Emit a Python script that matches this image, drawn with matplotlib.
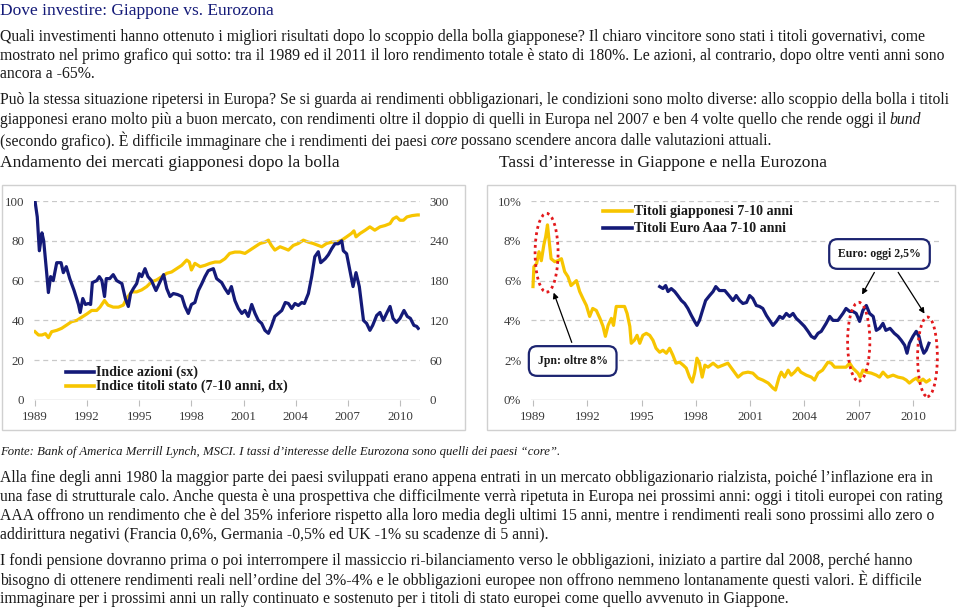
import matplotlib
matplotlib.use('Agg')
import matplotlib.pyplot as plt
from matplotlib.lines import Line2D
from matplotlib.patches import Rectangle, Ellipse, FancyArrowPatch

# %% Data read off the reference
# Chart 1: Japanese equity index (left axis) and govt bond index (right axis)
eq_year = [1989.0, 1989.13, 1989.25, 1989.4, 1989.5, 1989.67, 1989.77, 1989.9, 1990.05, 1990.25,
           1990.5, 1990.63, 1990.8, 1991.0, 1991.25, 1991.5, 1991.6, 1991.75, 1991.9, 1992.07,
           1992.2, 1992.3, 1992.55, 1992.7, 1992.85, 1993.0, 1993.1, 1993.3, 1993.5, 1993.7,
           1994.0, 1994.2, 1994.37, 1994.5, 1994.66, 1994.85, 1995.0, 1995.14, 1995.33, 1995.5,
           1995.7, 1995.96, 1996.2, 1996.4, 1996.58, 1996.77, 1996.96, 1997.2, 1997.45, 1997.63,
           1997.82, 1998.0, 1998.2, 1998.4, 1998.6, 1998.78, 1998.97, 1999.26, 1999.45, 1999.74,
           1999.93, 2000.12, 2000.3, 2000.5, 2000.7, 2000.9, 2001.08, 2001.27, 2001.47, 2001.66,
           2001.85, 2002.04, 2002.23, 2002.43, 2002.6, 2002.8, 2003.0, 2003.2, 2003.4, 2003.58,
           2003.77, 2003.96, 2004.15, 2004.35, 2004.5, 2004.73, 2004.92, 2005.1, 2005.3, 2005.44,
           2005.7, 2005.88, 2006.07, 2006.26, 2006.45, 2006.65, 2006.74, 2006.93, 2007.12, 2007.3,
           2007.47, 2007.66, 2007.9, 2008.08, 2008.27, 2008.43, 2008.66, 2008.85, 2009.04, 2009.23,
           2009.43, 2009.6, 2009.8, 2010.0, 2010.23, 2010.42, 2010.6, 2010.8, 2010.96, 2011.05]
eq_val = [100, 92, 75, 84, 80, 64, 54, 62, 60, 69,
          69, 64, 67, 61, 55, 48, 44, 51, 48, 48.5,
          48, 59, 60, 62, 60, 52, 61, 61, 63, 60,
          58.5, 51, 47, 53.5, 56, 58.5, 63.5, 62, 66, 62,
          60, 55, 59.5, 63, 56, 52, 53.5, 53, 52, 47,
          43.5, 48, 49, 55, 58.5, 62, 65, 66, 61, 59,
          56, 53.5, 57, 50, 46, 43.5, 45, 42, 48, 43.5,
          40, 38.5, 35, 33.5, 37, 42, 43.5, 45, 49, 48.5,
          46, 48.5, 47.5, 49, 48.5, 53.5, 62, 72, 74.5, 69,
          71, 73, 76, 78.5, 78.5, 80, 75, 73.5, 65, 57,
          64, 57, 40, 38.5, 35, 37.5, 42.5, 44, 40, 43.5,
          47, 41, 39, 41, 45, 42, 41, 37.5, 37, 36]

bd_year = [1989.0, 1989.2, 1989.4, 1989.6, 1989.77, 1989.96, 1990.25, 1990.53, 1990.82, 1991.1,
           1991.4, 1991.7, 1992.0, 1992.26, 1992.55, 1992.74, 1993.0, 1993.2, 1993.5, 1993.8,
           1994.08, 1994.27, 1994.56, 1994.85, 1995.14, 1995.43, 1995.7, 1996.0, 1996.3, 1996.58,
           1996.86, 1997.15, 1997.44, 1997.73, 1997.88, 1998.0, 1998.2, 1998.5, 1998.78, 1999.07,
           1999.36, 1999.64, 1999.93, 2000.2, 2000.5, 2000.8, 2001.08, 2001.37, 2001.66, 2001.95,
           2002.23, 2002.43, 2002.6, 2002.8, 2003.1, 2003.4, 2003.58, 2003.86, 2004.15, 2004.44,
           2004.73, 2005.0, 2005.3, 2005.5, 2005.78, 2006.07, 2006.36, 2006.65, 2006.93, 2007.2,
           2007.35, 2007.47, 2007.7, 2008.0, 2008.27, 2008.55, 2008.85, 2009.14, 2009.43, 2009.6,
           2009.8, 2010.0, 2010.2, 2010.4, 2010.7, 2011.0, 2011.05]
bd_val = [103, 98, 98, 100, 94, 103, 105, 108, 113, 118,
          120, 125, 130, 135, 135, 140, 150, 143, 140, 140,
          143, 153, 163, 163, 166, 171, 178, 181, 186, 191,
          193, 198, 203, 211, 208, 196, 206, 201, 203, 206,
          208, 208, 213, 221, 223, 223, 221, 226, 231, 236,
          238, 241, 233, 226, 231, 228, 226, 233, 236, 241,
          238, 236, 233, 231, 236, 238, 238, 241, 246, 251,
          255, 246, 251, 256, 261, 256, 261, 263, 266, 273,
          276, 271, 271, 276, 278, 279, 279]

# Chart 2: 7-10y yields, %
jp_year = [1989.0, 1989.05, 1989.2, 1989.33, 1989.46, 1989.6, 1989.7, 1989.8, 1989.88, 1990.0,
           1990.2, 1990.38, 1990.57, 1990.75, 1990.93, 1991.1, 1991.4, 1991.58, 1991.76, 1991.95,
           1992.13, 1992.3, 1992.5, 1992.7, 1992.87, 1993.0, 1993.15, 1993.33, 1993.45, 1993.6,
           1993.88, 1994.06, 1994.2, 1994.35, 1994.43, 1994.6, 1994.75, 1994.9, 1995.07, 1995.26,
           1995.45, 1995.63, 1995.8, 1996.0, 1996.18, 1996.37, 1996.55, 1996.73, 1996.9, 1997.1,
           1997.3, 1997.47, 1997.65, 1997.8, 1997.93, 1998.06, 1998.2, 1998.35, 1998.5, 1998.67,
           1998.95, 1999.22, 1999.5, 1999.77, 2000.05, 2000.33, 2000.6, 2000.88, 2001.15, 2001.43,
           2001.7, 2002.0, 2002.26, 2002.4, 2002.6, 2002.72, 2002.9, 2003.1, 2003.27, 2003.45,
           2003.64, 2003.8, 2004.1, 2004.38, 2004.56, 2004.75, 2005.0, 2005.3, 2005.48, 2005.67,
           2005.94, 2006.3, 2006.5, 2006.68, 2006.96, 2007.08, 2007.23, 2007.42, 2007.7, 2007.97,
           2008.15, 2008.34, 2008.6, 2008.9, 2009.17, 2009.44, 2009.63, 2009.8, 2010.0, 2010.18,
           2010.36, 2010.55, 2010.73, 2010.9]
jp_val = [5.7, 6.7, 6.85, 7.45, 7.0, 7.8, 8.2, 8.8, 8.1, 7.1,
          6.95, 7.0, 7.1, 6.45, 6.2, 5.75, 6.0, 5.45, 5.1, 4.75,
          4.2, 4.6, 4.5, 4.1, 3.7, 3.2, 3.75, 4.1, 3.75, 4.7,
          4.7, 4.7, 4.35, 3.7, 2.85, 3.0, 3.25, 2.85, 3.25, 3.35,
          3.25, 3.0, 2.6, 2.4, 2.5, 2.35, 2.6, 2.25, 1.85, 1.9,
          1.75, 1.6, 1.15, 0.9, 1.35, 2.1, 1.85, 1.15, 1.75, 1.65,
          1.85, 1.65, 1.75, 1.85, 1.5, 1.15, 1.35, 1.4, 1.35, 1.1,
          1.0, 0.85, 0.6, 0.5, 1.15, 1.4, 1.15, 1.5, 1.25, 1.4,
          1.6, 1.4, 1.25, 1.15, 1.0, 1.35, 1.5, 1.9, 1.85, 1.65,
          1.65, 1.65, 1.85, 1.6, 1.35, 1.15, 1.5, 1.4, 1.35, 1.25,
          1.15, 1.4, 1.15, 1.25, 1.15, 1.1, 1.0, 0.85, 1.0, 1.1,
          0.9, 1.05, 0.9, 1.0]

eu_year = [1996.0, 1996.18, 1996.33, 1996.46, 1996.64, 1996.83, 1997.0, 1997.2, 1997.38, 1997.56,
           1997.75, 1997.93, 1998.06, 1998.2, 1998.35, 1998.54, 1998.76, 1998.95, 1999.1, 1999.3,
           1999.6, 1999.83, 2000.05, 2000.23, 2000.42, 2000.6, 2000.8, 2000.97, 2001.15, 2001.34,
           2001.52, 2001.7, 2001.9, 2002.08, 2002.26, 2002.45, 2002.63, 2002.8, 2003.0, 2003.18,
           2003.37, 2003.55, 2003.73, 2004.0, 2004.2, 2004.38, 2004.56, 2004.75, 2004.93, 2005.2,
           2005.4, 2005.58, 2005.85, 2006.13, 2006.3, 2006.5, 2006.68, 2006.86, 2007.05, 2007.23,
           2007.42, 2007.6, 2007.8, 2007.97, 2008.15, 2008.34, 2008.5, 2008.73, 2008.97, 2009.17,
           2009.35, 2009.54, 2009.67, 2009.8, 2010.0, 2010.18, 2010.33, 2010.46, 2010.6, 2010.73,
           2010.88]
eu_val = [5.7, 5.6, 5.75, 5.45, 5.6, 5.45, 5.25, 5.0, 4.85, 4.6,
          4.25, 3.95, 3.75, 4.0, 4.45, 5.0, 5.25, 5.45, 5.7, 5.5,
          5.5, 5.25, 5.0, 5.25, 5.0, 4.85, 4.9, 5.25, 5.1, 4.75,
          4.7, 4.6, 4.25, 4.0, 3.75, 3.95, 4.2, 4.1, 4.35, 4.2,
          4.35, 4.1, 3.95, 3.7, 3.45, 3.2, 3.1, 3.35, 3.45, 3.85,
          4.2, 4.0, 4.0, 4.35, 4.6, 4.45, 4.45, 4.35, 3.95, 4.5,
          4.75, 4.35, 4.2, 3.5, 3.6, 3.85, 3.5, 3.6, 3.35, 3.2,
          3.0, 2.75, 2.35, 2.85, 3.2, 3.45, 3.2, 2.7, 2.35, 2.5,
          2.85]

year_ticks = [1989, 1992, 1995, 1998, 2001, 2004, 2007, 2010]
left_ticks = [0, 20, 40, 60, 80, 100]
right_ticks = [0, 60, 120, 180, 240, 300]
pct_ticks = [0, 2, 4, 6, 8, 10]

# highlighted periods: (centre year, centre %, width yrs, height %)
circles = [(1989.75, 7.4, 1.27, 3.96), (2007.0, 2.93, 1.23, 3.96), (2010.8, 2.17, 1.09, 4.0)]

title = "Dove investire: Giappone vs. Eurozona"
para1 = ["Quali investimenti hanno ottenuto i migliori risultati dopo lo scoppio della bolla giapponese? Il chiaro vincitore sono stati i titoli governativi, come",
         "mostrato nel primo grafico qui sotto: tra il 1989 ed il 2011 il loro rendimento totale è stato di 180%. Le azioni, al contrario, dopo oltre venti anni sono",
         "ancora a -65%."]
para2 = [[("Può la stessa situazione ripetersi in Europa? Se si guarda ai rendimenti obbligazionari, le condizioni sono molto diverse: allo scoppio della bolla i titoli", 'normal')],
         [("giapponesi erano molto più a buon mercato, con rendimenti oltre il doppio di quelli in Europa nel 2007 e ben 4 volte quello che rende oggi il", 'normal'), ("bund", 'italic')],
         [("(secondo grafico). È difficile immaginare che i rendimenti dei paesi", 'normal'), ("core", 'italic'),
          ("possano scendere ancora dalle valutazioni attuali.", 'normal')]]
title1 = "Andamento dei mercati giapponesi dopo la bolla"
title2 = "Tassi d’interesse in Giappone e nella Eurozona"
source = "Fonte: Bank of America Merrill Lynch, MSCI. I tassi d’interesse delle Eurozona sono quelli dei paesi “core”."
para3 = ["Alla fine degli anni 1980 la maggior parte dei paesi sviluppati erano appena entrati in un mercato obbligazionario rialzista, poiché l’inflazione era in",
         "una fase di strutturale calo. Anche questa è una prospettiva che difficilmente verrà ripetuta in Europa nei prossimi anni: oggi i titoli europei con rating",
         "AAA offrono un rendimento che è del 35% inferiore rispetto alla loro media degli ultimi 15 anni, mentre i rendimenti reali sono prossimi allo zero o",
         "addirittura negativi (Francia 0,6%, Germania -0,5% ed UK -1% su scadenze di 5 anni)."]
para4 = ["I fondi pensione dovranno prima o poi interrompere il massiccio ri-bilanciamento verso le obbligazioni, iniziato a partire dal 2008, perché hanno",
         "bisogno di ottenere rendimenti reali nell’ordine del 3%-4% e le obbligazioni europee non offrono nemmeno lontanamente questi valori. È difficile",
         "immaginare per i prossimi anni un rally continuato e sostenuto per i titoli di stato europei come quello avvenuto in Giappone."]

# %% Style
W, H = 959, 608
SERIF = 'Liberation Serif'
NAVY = '#141a78'
GOLD = '#f7c500'
RED = '#e3191c'
GRID = '#c9c9c9'
TXT = '#1a1a1a'
LAB = '#3a3a3a'
body_fs = 11.35
tick_fs = 9.3
leg_fs = 10.1

plt.rcParams['font.family'] = SERIF

fig = plt.figure(figsize=(W / 100, H / 100), dpi=100)
renderer = fig.canvas.get_renderer()


def fx(x):
    return x / W


def fy(y):
    return 1 - y / H


def put(x, y, s, color=TXT, **kw):
    return fig.text(fx(x), fy(y), s, va='center', ha='left', color=color, **kw)


def put_runs(x, y, parts, size):
    # draw text runs (normal / italic) one after another on the same line
    a = fig.text(0, 0, 'x x', fontsize=size)
    b = fig.text(0, 0, 'xx', fontsize=size)
    sp = a.get_window_extent(renderer).width - b.get_window_extent(renderer).width
    a.remove()
    b.remove()
    for s, st in parts:
        t = put(x, y, s, fontsize=size, style=st)
        x += t.get_window_extent(renderer).width + 0.8 * sp


# %% Body text
put(0, 11, title, color=NAVY, fontsize=12.5)
for i, line in enumerate(para1):
    put(0, 37 + i * 18.5, line, fontsize=body_fs)
for i, parts in enumerate(para2):
    put_runs(0, 100 + i * 20.5, parts, body_fs)
put(0, 163, title1, fontsize=12.6)
put(499, 163, title2, fontsize=12.6)
put(0, 452, source, fontsize=9.2, style='italic')
for i, line in enumerate(para3):
    put(0, 478 + i * 19, line, fontsize=body_fs)
for i, line in enumerate(para4):
    put(0, 561 + i * 19, line, fontsize=body_fs)

# chart frames
for x0, x1 in [(2, 465), (487, 955)]:
    fig.add_artist(Rectangle((fx(x0), fy(430)), (x1 - x0) / W, (430 - 185) / H,
                             transform=fig.transFigure, fill=False, ec='#d0d0d0', lw=1))


def style_axis(ax):
    for sp in ax.spines.values():
        sp.set_visible(False)
    ax.set_xticks(year_ticks)
    ax.tick_params(axis='x', length=4, color='#bdbdbd', pad=4, labelsize=tick_fs, labelcolor=LAB)
    ax.tick_params(axis='y', length=0, pad=7, labelsize=tick_fs, labelcolor=LAB)
    ax.set_facecolor('none')


# %% Chart 1
ax1 = fig.add_axes([fx(34), fy(400), (420 - 34) / W, (400 - 201) / H])
ax1b = ax1.twinx()
ax1.set_zorder(ax1b.get_zorder() + 1)
ax1.set_xlim(1989 - 1 / 17.38, 1989 + (420 - 35) / 17.38)
ax1.set_ylim(0, 100)
ax1b.set_ylim(0, 300)
ax1.set_yticks(left_ticks)
ax1b.set_yticks(right_ticks)
style_axis(ax1)
style_axis(ax1b)
ax1b.tick_params(axis='x', length=0, labelbottom=False)
for v in left_ticks[1:]:
    ax1.axhline(v, color=GRID, lw=0.9, ls=(0, (4, 3)), zorder=0)
ax1.axhline(0, color='#bdbdbd', lw=1, zorder=0)
ax1b.plot(bd_year, bd_val, color=GOLD, lw=2.3, solid_joinstyle='round')
ax1.plot(eq_year, eq_val, color=NAVY, lw=2.3, solid_joinstyle='round')

# legend chart 1
for yy, col, lab in [(372, NAVY, "Indice azioni (sx)"), (386, GOLD, "Indice titoli stato (7-10 anni, dx)")]:
    fig.add_artist(Line2D([fx(66), fx(94)], [fy(yy), fy(yy)], color=col, lw=2.6, transform=fig.transFigure))
    put(96, yy, lab, fontsize=leg_fs, weight='bold')

# %% Chart 2
ax2 = fig.add_axes([fx(531), fy(400), (940 - 531) / W, (400 - 201) / H])
ax2.set_xlim(1989 - 2 / 18.095, 1989 + (940 - 533) / 18.095)
ax2.set_ylim(0, 10)
ax2.set_yticks(pct_ticks)
ax2.set_yticklabels([f"{v}%" for v in pct_ticks])
style_axis(ax2)
for v in pct_ticks[1:]:
    ax2.axhline(v, color=GRID, lw=0.9, ls=(0, (4, 3)), zorder=0)
ax2.axhline(0, color='#bdbdbd', lw=1, zorder=0)
ax2.plot(jp_year, jp_val, color=GOLD, lw=2.3, solid_joinstyle='round')
ax2.plot(eu_year, eu_val, color=NAVY, lw=2.3, solid_joinstyle='round')

for cx, cy, w, h in circles:
    ax2.add_patch(Ellipse((cx, cy), w, h, fill=False, ec=RED, lw=2, ls=(0, (1, 1.3)), clip_on=False, zorder=5))

for yy, col, lab in [(211, GOLD, "Titoli giapponesi 7-10 anni"), (228, NAVY, "Titoli Euro Aaa 7-10 anni")]:
    fig.add_artist(Line2D([fx(603), fx(632)], [fy(yy), fy(yy)], color=col, lw=2.6, transform=fig.transFigure))
    put(634, yy, lab, fontsize=leg_fs, weight='bold')

box = dict(boxstyle='round,pad=0.75,rounding_size=0.7', fc='white', ec='#1c2470', lw=1.6)
fig.text(fx(879.5), fy(254), "Euro: oggi 2,5%", fontsize=8.5, weight='bold', ha='center', va='center',
         color=TXT, bbox=box, zorder=6)
fig.text(fx(572.7), fy(361), "Jpn: oltre 8%", fontsize=8.5, weight='bold', ha='center', va='center',
         color=TXT, bbox=box, zorder=6)

arrows = [((572.7, 345), (552.7, 290)), ((875.7, 270), (860.7, 297)), ((896.7, 270), (926, 316))]
for (x0, y0), (x1, y1) in arrows:
    fig.add_artist(FancyArrowPatch((fx(x0), fy(y0)), (fx(x1), fy(y1)),
                                   transform=fig.transFigure, arrowstyle='-|>',
                                   mutation_scale=8, color='black', lw=0.9, zorder=7))

fig.savefig('out.png', dpi=100)
